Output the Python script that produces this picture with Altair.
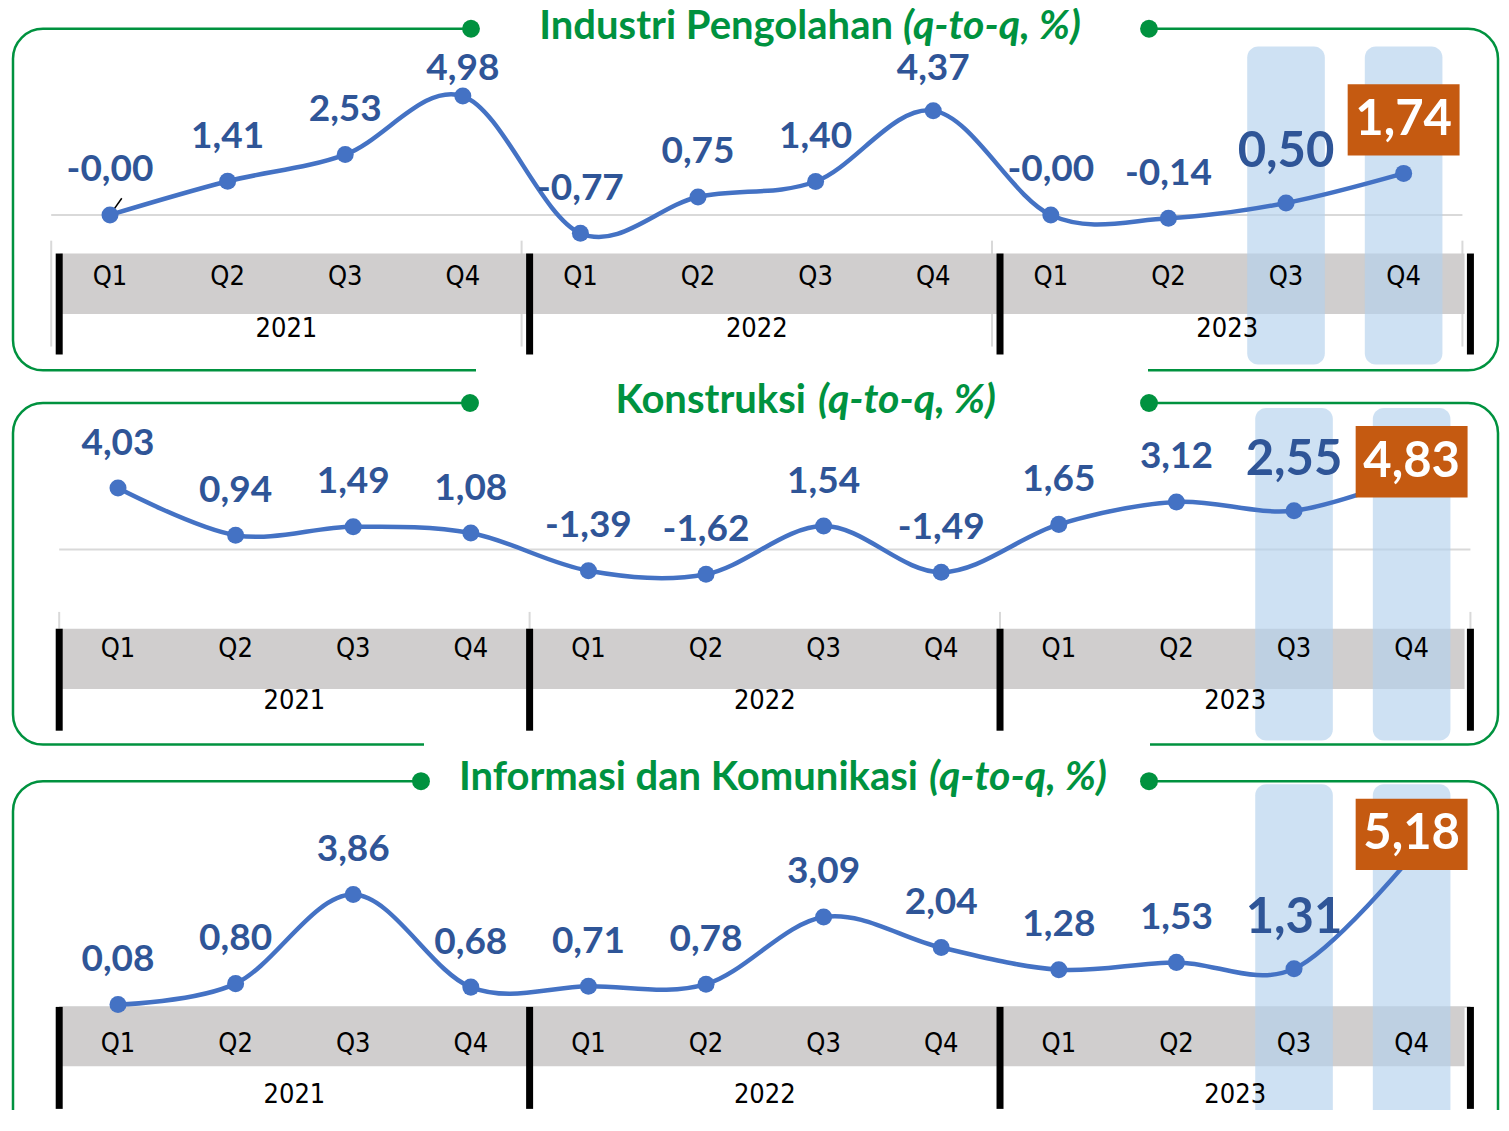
import altair as alt
import pandas as pd

# ---------------- data ----------------
quarters = ["Q1", "Q2", "Q3", "Q4"] * 3
years = ["2021", "2022", "2023"]
industri = [-0.001, 1.41, 2.53, 4.98, -0.77, 0.75, 1.40, 4.37, -0.002, -0.14, 0.50, 1.74]
konstruksi = [4.03, 0.94, 1.49, 1.08, -1.39, -1.62, 1.54, -1.49, 1.65, 3.12, 2.55, 4.83]
infokom = [0.08, 0.80, 3.86, 0.68, 0.71, 0.78, 3.09, 2.04, 1.28, 1.53, 1.31, 5.18]
titles = ["Industri Pengolahan", "Konstruksi", "Informasi dan Komunikasi"]
subtitle = "(q-to-q, %)"
series = [industri, konstruksi, infokom]

# ---------------- style / layout ----------------
W, H = 1493, 1102
K = 0.99  # vertical compression so the page fits without scrolling
GREEN = "#00923F"
BLUE = "#4472C4"
LABEL = "#2F5597"
ORANGE = "#C55A11"
GRAY = "#D0CECE"
HL = "#B4D1EC"
BOLD_FONT = "Lato"
AXIS_FONT = "Liberation Sans Narrow, Arial Narrow, DejaVu Sans Condensed, Liberation Sans"
XDOM = [-0.9354, 11.760]


def X(px):
    return px - 8


def Y(py):
    return (py - 8) * K


layout = [
    dict(shift=-0.068, zero=217, ppu=24.1, cap=4.25, box_dy=-54, leader=True,
         frame=(29, 374), title_y=27.5, dots=(471, 1149), split=(893, 903),
         gap_bottom=(476, 1148), band=(256, 317), sep=(256, 358),
         thin=(243, 350), qy=280, yy=332, col=(47, 368)),
    dict(shift=0.0, zero=555, ppu=15.4, cap=4.2, box_dy=-24, leader=False,
         frame=(407, 752), title_y=405, dots=(470, 1149), split=(806, 818),
         gap_bottom=(424, 1150), band=(635, 696), sep=(635, 738),
         thin=(618, 635), qy=655, yy=708, col=(412, 748)),
    dict(shift=0.0, zero=1017, ppu=29.4, cap=9.0, box_dy=-22, leader=False,
         frame=(789, 1170), title_y=786, dots=(421, 1149), split=(918, 929),
         gap_bottom=None, band=(1017, 1077), sep=(1017, 1120),
         thin=None, qy=1054, yy=1106, col=(792, 1150)),
]

one = pd.DataFrame({"k": [0]})
xs = alt.Scale(domain=XDOM, nice=False, zero=False)


def fmt(v):
    return f"{v:.2f}".replace(".", ",")


layers = []
for title, vals, L in zip(titles, series, layout):
    y0 = Y(L["zero"])
    ys = alt.Scale(domain=[0, 1], range=[y0, y0 - L["ppu"] * K], nice=False, zero=False)
    sh = L["shift"]
    df = pd.DataFrame({"i": list(range(12)), "v": vals, "q": quarters})
    df["xp"] = df["i"] + sh
    df["ly"] = df["v"].clip(upper=L["cap"])
    df["label"] = [fmt(v) for v in vals]
    df["kind"] = ["normal"] * 10 + ["big", "box"]

    ft, fb = Y(L["frame"][0]), Y(L["frame"][1])
    # frame
    layers.append(alt.Chart(one).mark_rect(
        fillOpacity=0, stroke=GREEN, strokeWidth=2.5, cornerRadius=30
    ).encode(x=alt.value(X(13)), x2=alt.value(1490), y=alt.value(ft), y2=alt.value(fb)))
    # gaps in frame
    d1, d2 = X(L["dots"][0]), X(L["dots"][1])
    layers.append(alt.Chart(one).mark_rect(fill="white").encode(
        x=alt.value(d1), x2=alt.value(d2), y=alt.value(ft - 4), y2=alt.value(ft + 4)))
    if L["gap_bottom"]:
        g1, g2 = X(L["gap_bottom"][0]), X(L["gap_bottom"][1])
        layers.append(alt.Chart(one).mark_rect(fill="white").encode(
            x=alt.value(g1), x2=alt.value(g2), y=alt.value(fb - 4), y2=alt.value(fb + 4)))
    # title dots
    for dx in (d1, d2):
        layers.append(alt.Chart(one).mark_circle(size=320, color=GREEN, opacity=1).encode(
            x=alt.value(dx), y=alt.value(ft)))
    # title
    s1, s2 = X(L["split"][0]), X(L["split"][1])
    ty = Y(L["title_y"])
    layers.append(alt.Chart(one).mark_text(
        text=title, font=BOLD_FONT, fontWeight="bold", fontSize=40, color=GREEN,
        align="right", baseline="middle"
    ).encode(x=alt.value(s1), y=alt.value(ty)))
    layers.append(alt.Chart(one).mark_text(
        text=subtitle, font=BOLD_FONT, fontWeight="bold", fontStyle="italic", fontSize=41,
        color=GREEN, align="left", baseline="middle"
    ).encode(x=alt.value(s2), y=alt.value(ty)))

    # zero gridline
    zdf = pd.DataFrame({"a": [-0.5 + sh], "b": [11.5 + sh], "z": [0.0]})
    layers.append(alt.Chart(zdf).mark_rule(color="#D9D9D9", strokeWidth=2).encode(
        x=alt.X("a:Q", scale=xs, axis=None), x2="b:Q",
        y=alt.Y("z:Q", scale=ys, axis=None)))

    # thin category ticks
    if L["thin"]:
        tdf = pd.DataFrame({"a": [4 * k - 0.5 + sh for k in range(4)]})
        layers.append(alt.Chart(tdf).mark_rule(color="#D9D9D9", strokeWidth=2).encode(
            x=alt.X("a:Q", scale=xs, axis=None),
            y=alt.value(Y(L["thin"][0])), y2=alt.value(Y(L["thin"][1]))))

    # gray band
    bdf = pd.DataFrame({"a": [-0.49], "b": [11.45]})
    layers.append(alt.Chart(bdf).mark_rect(color=GRAY).encode(
        x=alt.X("a:Q", scale=xs, axis=None), x2="b:Q",
        y=alt.value(Y(L["band"][0])), y2=alt.value(Y(L["band"][1]))))

    # highlight columns (Q3, Q4 2023)
    cdf = pd.DataFrame({"a": [10 + sh - 0.33, 11 + sh - 0.33],
                        "b": [10 + sh + 0.33, 11 + sh + 0.33]})
    layers.append(alt.Chart(cdf).mark_rect(color=HL, opacity=0.65, cornerRadius=11).encode(
        x=alt.X("a:Q", scale=xs, axis=None), x2="b:Q",
        y=alt.value(Y(L["col"][0])), y2=alt.value(Y(L["col"][1]))))

    # year separators
    sdf = pd.DataFrame({"a": [4 * k - 0.5 for k in range(4)]})
    layers.append(alt.Chart(sdf).mark_rule(color="black", strokeWidth=7).encode(
        x=alt.X("a:Q", scale=xs, axis=None),
        y=alt.value(Y(L["sep"][0])), y2=alt.value(Y(L["sep"][1]))))

    # quarter labels
    layers.append(alt.Chart(df).mark_text(
        font=AXIS_FONT, fontSize=27, color="black", baseline="middle"
    ).encode(x=alt.X("xp:Q", scale=xs, axis=None), y=alt.value(Y(L["qy"])), text="q:N"))

    # year labels
    ydf = pd.DataFrame({"year": years, "a": [1.5 + 4 * k + sh for k in range(3)]})
    layers.append(alt.Chart(ydf).mark_text(
        font=AXIS_FONT, fontSize=27, color="black", baseline="middle"
    ).encode(x=alt.X("a:Q", scale=xs, axis=None), y=alt.value(Y(L["yy"])), text="year:N"))

    # small leader line for the first label
    if L["leader"]:
        ldf = df.head(1).assign(x2=lambda d: d["xp"] + 0.1, y2=lambda d: d["v"] + 0.7)
        layers.append(alt.Chart(ldf).mark_rule(color="black", strokeWidth=1.5).encode(
            x=alt.X("xp:Q", scale=xs, axis=None), x2="x2:Q",
            y=alt.Y("v:Q", scale=ys, axis=None), y2="y2:Q"))

    # line
    layers.append(alt.Chart(df).mark_line(
        color=BLUE, strokeWidth=4.5, interpolate="cardinal"
    ).encode(x=alt.X("xp:Q", scale=xs, axis=None),
             y=alt.Y("v:Q", scale=ys, axis=None), order="i:Q"))
    # points
    layers.append(alt.Chart(df).mark_circle(color=BLUE, size=290, opacity=1).encode(
        x=alt.X("xp:Q", scale=xs, axis=None), y=alt.Y("v:Q", scale=ys, axis=None)))

    # value labels
    layers.append(alt.Chart(df).transform_filter("datum.kind == 'normal'").mark_text(
        font=BOLD_FONT, fontWeight="bold", fontSize=37, color=LABEL, baseline="middle",
        dy=-45 * K
    ).encode(x=alt.X("xp:Q", scale=xs, axis=None), y=alt.Y("ly:Q", scale=ys, axis=None),
             text="label:N"))
    layers.append(alt.Chart(df).transform_filter("datum.kind == 'big'").mark_text(
        font=BOLD_FONT, fontWeight="bold", fontSize=49, color=LABEL, baseline="middle",
        dy=-51 * K
    ).encode(x=alt.X("xp:Q", scale=xs, axis=None), y=alt.Y("ly:Q", scale=ys, axis=None),
             text="label:N"))
    # orange box for latest value
    layers.append(alt.Chart(df).transform_filter("datum.kind == 'box'").mark_point(
        shape="M-1.57,-1H1.57V1H-1.57Z", filled=True, fill=ORANGE, strokeWidth=0,
        size=(72 * K) ** 2, opacity=1, yOffset=L["box_dy"] * K
    ).encode(x=alt.X("xp:Q", scale=xs, axis=None), y=alt.Y("ly:Q", scale=ys, axis=None)))
    layers.append(alt.Chart(df).transform_filter("datum.kind == 'box'").mark_text(
        font=BOLD_FONT, fontWeight="bold", fontSize=49, color="white", baseline="middle",
        dy=L["box_dy"] * K
    ).encode(x=alt.X("xp:Q", scale=xs, axis=None), y=alt.Y("ly:Q", scale=ys, axis=None),
             text="label:N"))

chart = alt.layer(*layers).resolve_scale(y="independent").properties(
    width=W, height=H, padding=0,
    autosize=alt.AutoSizeParams(type="none"),
    background="white",
).configure_view(strokeWidth=0)

chart.save("out.html", embed_options={"renderer": "svg", "actions": False})
